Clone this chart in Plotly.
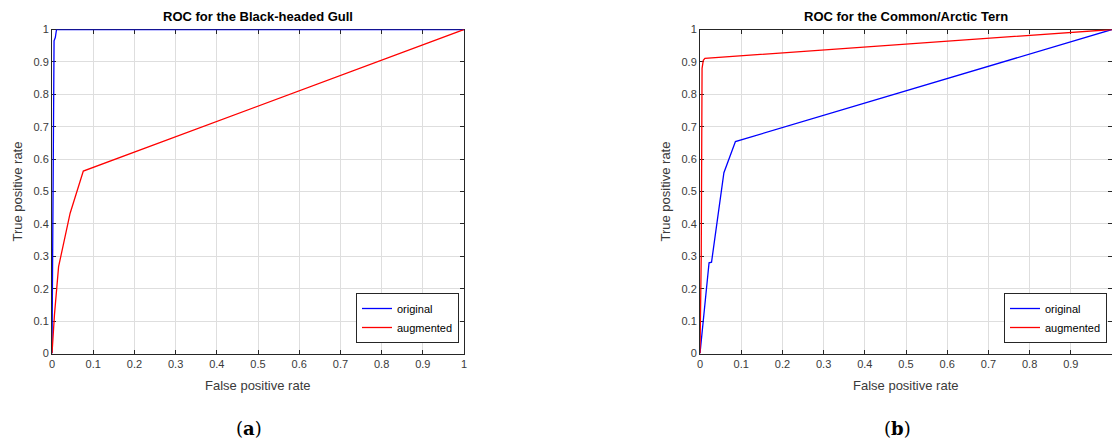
import plotly.graph_objects as go

# Data
gull_orig_fpr = [0.0, 0.002, 0.004, 0.005, 0.008, 0.011, 1.0]
gull_orig_tpr = [0.0, 0.55, 0.93, 0.965, 0.975, 1.0, 1.0]
gull_aug_fpr = [0.0, 0.006, 0.016, 0.044, 0.076, 1.0]
gull_aug_tpr = [0.0, 0.12, 0.268, 0.433, 0.563, 1.0]

tern_orig_fpr = [0.0, 0.022, 0.028, 0.058, 0.086, 1.0]
tern_orig_tpr = [0.0, 0.28, 0.282, 0.558, 0.654, 1.0]
tern_aug_fpr = [0.0, 0.003, 0.005, 0.008, 0.012, 1.0]
tern_aug_tpr = [0.0, 0.3, 0.88, 0.905, 0.911, 1.0]

tick_vals = [0, 0.1, 0.2, 0.3, 0.4, 0.5, 0.6, 0.7, 0.8, 0.9, 1]
tick_text = ["0", "0.1", "0.2", "0.3", "0.4", "0.5", "0.6", "0.7", "0.8", "0.9", "1"]

titles = ["ROC for the Black-headed Gull", "ROC for the Common/Arctic Tern"]
captions = ["(<b>a</b>)", "(<b>b</b>)"]

W, H = 1112, 445
AX = "#262626"
TICKC = "#3a3a3a"
GRID = "#dedede"
FONT = "Liberation Sans, Arial, sans-serif"

fig = go.Figure()

BLUE = "#0000ff"
RED = "#ff0000"

fig.add_trace(go.Scatter(x=gull_orig_fpr, y=gull_orig_tpr, mode="lines", name="original",
                         line=dict(color=BLUE, width=1.3), xaxis="x", yaxis="y", legend="legend"))
fig.add_trace(go.Scatter(x=gull_aug_fpr, y=gull_aug_tpr, mode="lines", name="augmented",
                         line=dict(color=RED, width=1.3), xaxis="x", yaxis="y", legend="legend"))
fig.add_trace(go.Scatter(x=tern_orig_fpr, y=tern_orig_tpr, mode="lines", name="original",
                         line=dict(color=BLUE, width=1.3), xaxis="x2", yaxis="y2", legend="legend2"))
fig.add_trace(go.Scatter(x=tern_aug_fpr, y=tern_aug_tpr, mode="lines", name="augmented",
                         line=dict(color=RED, width=1.3), xaxis="x2", yaxis="y2", legend="legend2"))

px0 = [52, 700]
px1 = [464, 1112]
ytop, ybot = 29.5, 353.5

def axis_common():
    return dict(range=[0, 1], tickvals=tick_vals, ticktext=tick_text, showgrid=True,
                gridcolor=GRID, gridwidth=1, showline=True, linecolor=AX, linewidth=1,
                mirror="ticks", ticks="inside", ticklen=4, tickcolor=AX, zeroline=False,
                tickfont=dict(family=FONT, size=11, color=TICKC), layer="below traces",
                fixedrange=True, automargin=False)

layout = dict(width=W, height=H, margin=dict(l=0, r=0, t=0, b=0, autoexpand=False),
              paper_bgcolor="white", plot_bgcolor="white", font=dict(family=FONT, color=AX))
for i in range(2):
    sx = "" if i == 0 else "2"
    xa = axis_common()
    xa.update(domain=[px0[i] / W, px1[i] / W], anchor="y" + sx)
    ya = axis_common()
    ya.update(domain=[(H - ybot) / H, (H - ytop) / H], anchor="x" + sx)
    layout["xaxis" + sx] = xa
    layout["yaxis" + sx] = ya
fig.update_layout(**layout)

legend_right = [459, 1107]
for i in range(2):
    key = "legend" if i == 0 else "legend2"
    fig.update_layout(**{key: dict(x=legend_right[i] / W, y=(H - 343) / H, xanchor="right", yanchor="bottom",
                                   bgcolor="white", bordercolor=AX, borderwidth=1,
                                   font=dict(family=FONT, size=11, color="#000000"),
                                   tracegroupgap=0, itemwidth=30)})

anns = []
for i in range(2):
    cx = (px0[i] + px1[i]) / 2
    anns.append(dict(text="<b>" + titles[i] + "</b>", x=cx / W, y=(H - 16.5) / H, xref="paper", yref="paper",
                     showarrow=False, font=dict(family=FONT, size=13, color="#000000"),
                     xanchor="center", yanchor="middle"))
    anns.append(dict(text="False positive rate", x=cx / W, y=(H - 385) / H, xref="paper", yref="paper",
                     showarrow=False, font=dict(family=FONT, size=13, color=TICKC),
                     xanchor="center", yanchor="middle"))
    ytx = [17, 665][i]
    anns.append(dict(text="True positive rate", x=ytx / W, y=(H - (ytop + ybot) / 2) / H, xref="paper",
                     yref="paper", showarrow=False, textangle=-90,
                     font=dict(family=FONT, size=13, color=TICKC), xanchor="center", yanchor="middle"))
    capx = [249, 897][i]
    anns.append(dict(text=captions[i], x=capx / W, y=(H - 428) / H, xref="paper", yref="paper",
                     showarrow=False, font=dict(family="DejaVu Serif, serif", size=18, color="#000000"),
                     xanchor="center", yanchor="middle"))
fig.update_layout(annotations=anns)

fig.write_html("out.html")
